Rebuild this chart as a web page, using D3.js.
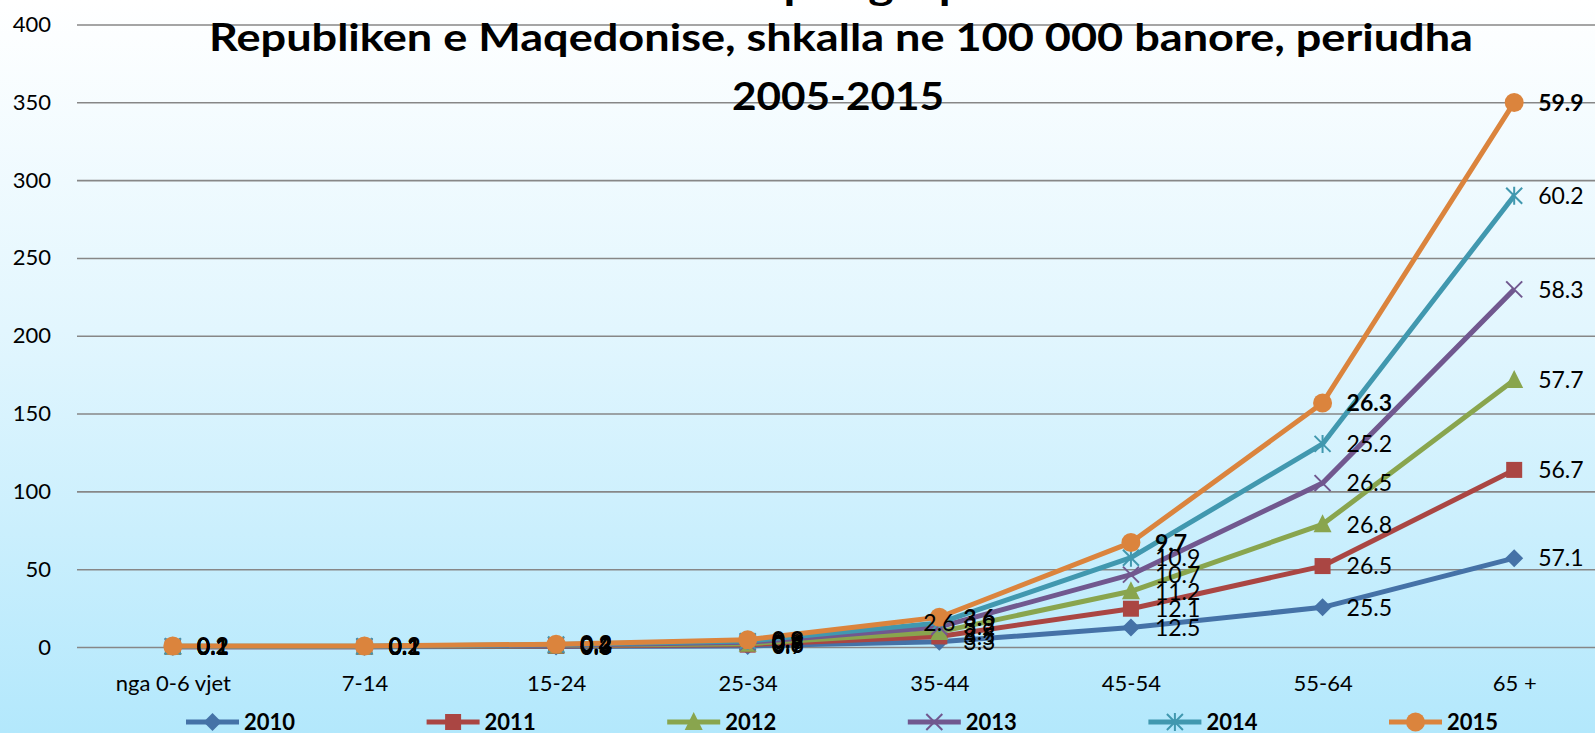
<!DOCTYPE html>
<html>
<head>
<meta charset="UTF-8">
<title>Shkalla ne 100 000 banore</title>
<script src="https://cdn.jsdelivr.net/npm/d3@7"></script>
<style>
  body { margin: 0; background: #fff; }
  svg { display: block; font-family: Lato, "Liberation Sans", sans-serif; }
</style>
</head>
<body>
<script>
  // data (values per series, lines are stacked)
  var categories = ['nga 0-6 vjet', '7-14', '15-24', '25-34', '35-44', '45-54', '55-64', '65 +'];
  var years = ['2010', '2011', '2012', '2013', '2014', '2015'];
  var v2010 = [0.1, 0.1, 0.3, 0.7, 3.3, 12.5, 25.5, 57.1];
  var v2011 = [0.1, 0.1, 0.4, 0.8, 3.5, 12.1, 26.5, 56.7];
  var v2012 = [0.1, 0.1, 0.3, 0.6, 2.9, 11.2, 26.8, 57.7];
  var v2013 = [0.1, 0.1, 0.2, 0.9, 3.2, 10.7, 26.5, 58.3];
  var v2014 = [0.1, 0.1, 0.4, 0.8, 2.6, 10.9, 25.2, 60.2];
  var v2015 = [0.2, 0.2, 0.2, 0.9, 3.6, 9.7, 26.3, 59.9];
  var yTicks = [0, 50, 100, 150, 200, 250, 300, 350, 400];
  var titleLines = ['Vdekshmeria sipas grupmoshave ne',
    'Republiken e Maqedonise, shkalla ne 100 000 banore, periudha',
    '2005-2015'];

  var series = [v2010, v2011, v2012, v2013, v2014, v2015];
  var colors = ['#4572a7', '#aa4643', '#89a54e', '#71588f', '#4198af', '#db843d'];
  var markers = ['diamond', 'square', 'triangle', 'x', 'star', 'circle'];

  var W = 1595, H = 733;
  var plotLeft = 77, plotRight = 1610, y0 = 647, yTop = 24.5;

  var svg = d3.select('body').append('svg')
    .attr('width', W)
    .attr('height', H);

  var grad = svg.append('defs').append('linearGradient')
    .attr('id', 'bg')
    .attr('x1', 0).attr('y1', 0).attr('x2', 0).attr('y2', 1);
  grad.append('stop').attr('offset', '0%').attr('stop-color', '#ffffff');
  grad.append('stop').attr('offset', '45%').attr('stop-color', '#e2f6fe');
  grad.append('stop').attr('offset', '100%').attr('stop-color', '#b3e8fc');

  svg.append('rect')
    .attr('width', W).attr('height', H)
    .attr('fill', 'url(#bg)');

  // rows for d3.stack
  var rows = categories.map(function(c, i) {
    var r = {cat: c};
    years.forEach(function(y, j) { r[y] = series[j][i]; });
    return r;
  });
  var stacked = d3.stack().keys(years)(rows);

  var x = d3.scalePoint()
    .domain(categories)
    .range([plotLeft, plotRight])
    .padding(0.5);

  var y = d3.scaleLinear()
    .domain([0, 400])
    .range([y0, yTop]);

  // gridlines + y labels
  var yAxis = svg.append('g')
    .attr('transform', 'translate(' + plotLeft + ',0)')
    .call(d3.axisLeft(y).tickValues(yTicks).tickSize(-(W - plotLeft)).tickPadding(26));
  yAxis.select('.domain').remove();
  yAxis.selectAll('.tick line')
    .attr('stroke', '#878787')
    .attr('stroke-width', 1.6);
  yAxis.selectAll('.tick text')
    .attr('font-size', 22)
    .attr('font-family', 'Lato, sans-serif')
    .attr('fill', '#000');

  // category labels
  var xAxis = svg.append('g')
    .attr('transform', 'translate(0,' + y0 + ')')
    .call(d3.axisBottom(x).tickSize(0).tickPadding(28));
  xAxis.select('.domain').remove();
  xAxis.selectAll('.tick text')
    .attr('font-size', 22)
    .attr('font-family', 'Lato, sans-serif')
    .attr('fill', '#000');

  // title (first line is cut off by the top edge)
  var title = svg.append('g')
    .attr('font-weight', 'bold')
    .attr('font-size', 38)
    .attr('text-anchor', 'middle');
  title.append('text').attr('x', 841).attr('y', 0)
    .attr('textLength', 760).attr('lengthAdjust', 'spacingAndGlyphs')
    .text(titleLines[0]);
  title.append('text').attr('x', 841).attr('y', 51)
    .attr('textLength', 1264).attr('lengthAdjust', 'spacingAndGlyphs')
    .text(titleLines[1]);
  title.append('text').attr('x', 838).attr('y', 110)
    .attr('textLength', 212).attr('lengthAdjust', 'spacingAndGlyphs')
    .text(titleLines[2]);

  function drawMarker(g, type, color) {
    if (type == 'diamond') {
      g.append('path').attr('d', 'M0,-9L9,0L0,9L-9,0Z').attr('fill', color);
    } else if (type == 'square') {
      g.append('rect').attr('x', -8).attr('y', -8).attr('width', 16).attr('height', 16).attr('fill', color);
    } else if (type == 'triangle') {
      g.append('path').attr('d', 'M0,-10L9,8L-9,8Z').attr('fill', color);
    } else if (type == 'x') {
      g.append('path').attr('d', 'M-8,-8L8,8M-8,8L8,-8')
        .attr('stroke', color).attr('stroke-width', 2).attr('fill', 'none');
    } else if (type == 'star') {
      g.append('path').attr('d', 'M-8,-8L8,8M-8,8L8,-8M0,-9L0,9')
        .attr('stroke', color).attr('stroke-width', 2).attr('fill', 'none');
    } else {
      g.append('circle').attr('r', 9.5).attr('fill', color);
    }
  }

  var line = d3.line()
    .x(function(d) { return x(d.data.cat); })
    .y(function(d) { return y(d[1]); });

  var plot = svg.append('g');
  stacked.forEach(function(s, i) {
    var g = plot.append('g');
    g.append('path')
      .datum(s)
      .attr('d', line)
      .attr('fill', 'none')
      .attr('stroke', colors[i])
      .attr('stroke-width', 5)
      .attr('stroke-linejoin', 'round');
    g.selectAll('g.pt')
      .data(s)
      .enter()
      .append('g')
      .attr('class', 'pt')
      .attr('transform', function(d) {
        return 'translate(' + x(d.data.cat) + ',' + y(d[1]) + ')';
      })
      .each(function() { drawMarker(d3.select(this), markers[i], colors[i]); });
  });

  // data labels, right of the point (the 2014 label at 35-44 sits over its point)
  var labels = svg.append('g').attr('font-size', 23);
  stacked.forEach(function(s, i) {
    labels.selectAll(null)
      .data(s)
      .enter()
      .append('text')
      .attr('x', function(d) {
        var off = (i == 4 && d.data.cat == '35-44') ? -16 : 24;
        return x(d.data.cat) + off;
      })
      .attr('y', function(d) { return y(d[1]); })
      .attr('dy', '0.36em')
      .attr('font-weight', i == 5 ? 'bold' : 'normal')
      .text(function(d) { return d3.format('.1f')(d[1] - d[0]); });
  });

  // legend
  var legend = svg.append('g')
    .attr('transform', 'translate(0,722)');
  years.forEach(function(yr, i) {
    var lx = 186 + i * 240.6;
    var item = legend.append('g').attr('transform', 'translate(' + lx + ',0)');
    item.append('line')
      .attr('x1', 0).attr('x2', 53)
      .attr('stroke', colors[i])
      .attr('stroke-width', 5);
    drawMarker(item.append('g').attr('transform', 'translate(26.5,0)'), markers[i], colors[i]);
    item.append('text')
      .attr('x', 58)
      .attr('dy', '0.36em')
      .attr('font-size', 22)
      .attr('font-weight', 'bold')
      .text(yr);
  });
</script>
</body>
</html>
